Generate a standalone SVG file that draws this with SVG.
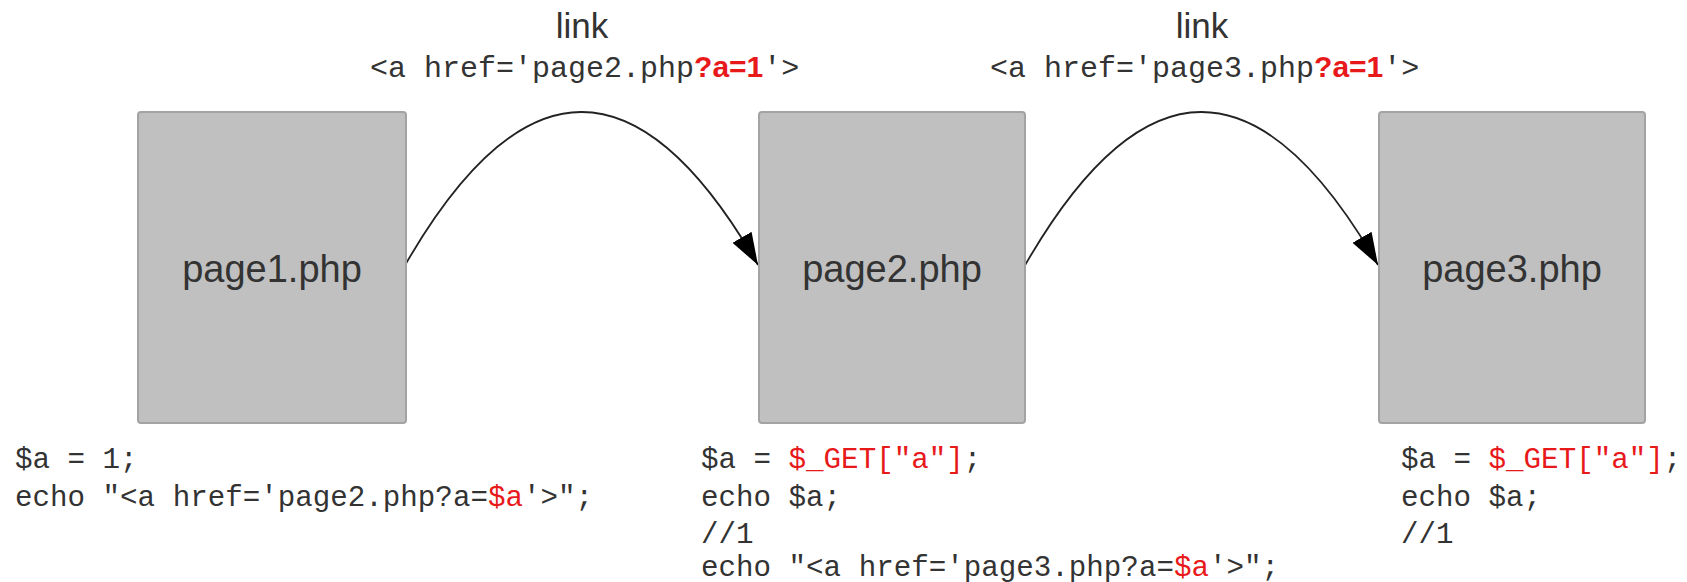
<svg xmlns="http://www.w3.org/2000/svg" width="1687" height="582" viewBox="0 0 1687 582">
<style>
.box{fill:#c0c0c0;stroke:#a3a3a3;stroke-width:2}
.lbl{font-family:"Liberation Sans",Arial,sans-serif;font-size:38px;fill:#333;text-anchor:middle}
.link{font-family:"Liberation Sans",Arial,sans-serif;font-size:35px;fill:#333;text-anchor:middle}
.code{font-family:"Liberation Mono","Courier New",monospace;font-size:29.2px;fill:#333}
.top{font-size:30px}
.red{fill:#e8191b}
.rb{font-family:"Liberation Sans",Arial,sans-serif;font-weight:bold;fill:#e8191b}
.conn{fill:none;stroke:#222;stroke-width:1.8}
</style>
<defs>
<marker id="arr" viewBox="0 0 32 22" refX="32" refY="11" markerWidth="32" markerHeight="22" markerUnits="userSpaceOnUse" orient="auto">
<path d="M0,0 L32,11 L0,22 z" fill="#000"/>
</marker>
</defs>
<g id="connectors">
<path class="conn" d="M404,267 Q581,-42 758,265" marker-end="url(#arr)"/>
<path class="conn" d="M1024,267 Q1201,-42 1378,265" marker-end="url(#arr)"/>
</g>
<g id="link1">
<text class="link" x="582" y="38">link</text>
<text class="code top" x="370" y="77">&lt;a href='page2.php<tspan class="rb">?a=1</tspan>'&gt;</text>
</g>
<g id="link2">
<text class="link" x="1202" y="38">link</text>
<text class="code top" x="990" y="77">&lt;a href='page3.php<tspan class="rb">?a=1</tspan>'&gt;</text>
</g>
<g id="page1">
<rect class="box" x="138" y="112" width="268" height="311" rx="3"/>
<text class="lbl" x="272" y="282">page1.php</text>
</g>
<g id="page2">
<rect class="box" x="759" y="112" width="266" height="311" rx="3"/>
<text class="lbl" x="892" y="282">page2.php</text>
</g>
<g id="page3">
<rect class="box" x="1379" y="112" width="266" height="311" rx="3"/>
<text class="lbl" x="1512" y="282">page3.php</text>
</g>
<g id="code1">
<text class="code" x="15" y="468">$a = 1;</text>
<text class="code" x="15" y="506">echo "&lt;a href='page2.php?a=<tspan class="red">$a</tspan>'&gt;";</text>
</g>
<g id="code2">
<text class="code" x="701" y="468">$a = <tspan class="red">$_GET["a"]</tspan>;</text>
<text class="code" x="701" y="506">echo $a;</text>
<text class="code" x="701" y="543">//1</text>
<text class="code" x="701" y="576">echo "&lt;a href='page3.php?a=<tspan class="red">$a</tspan>'&gt;";</text>
</g>
<g id="code3">
<text class="code" x="1401" y="468">$a = <tspan class="red">$_GET["a"]</tspan>;</text>
<text class="code" x="1401" y="506">echo $a;</text>
<text class="code" x="1401" y="543">//1</text>
</g>
</svg>
